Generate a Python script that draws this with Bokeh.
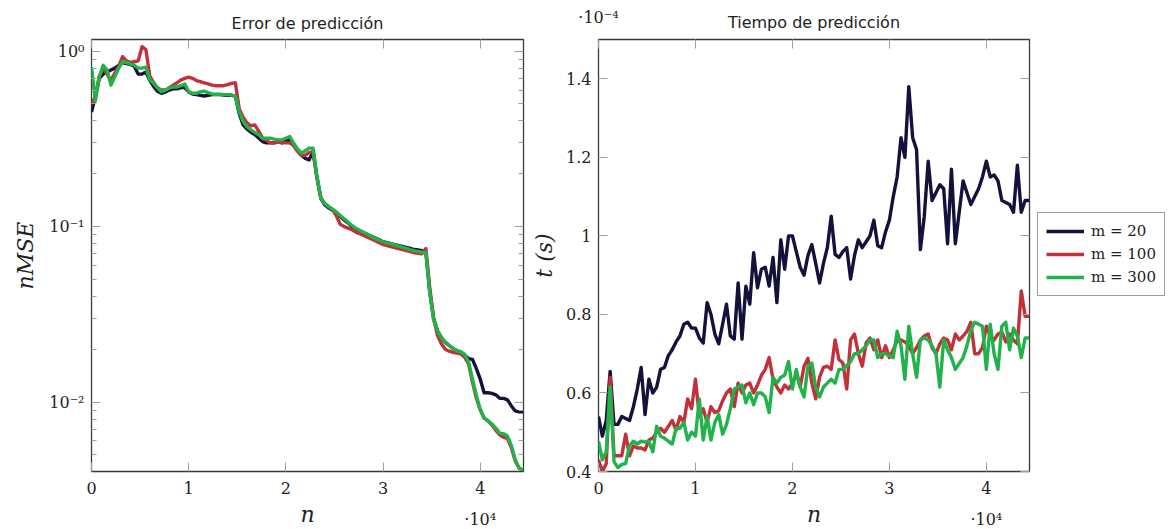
from bokeh.plotting import figure
from bokeh.models import (Range1d, FixedTicker, LinearAxis, LogAxis, CustomJSTickFormatter,
                          Legend, LegendItem)
from bokeh.layouts import row
from bokeh.embed import file_html
from bokeh.resources import INLINE

# ---------------- data ----------------
n = list(range(0, 44401, 400))  # training-set size n (112 points)

series_names = ["m = 20", "m = 100", "m = 300"]

# nMSE (left panel)
err_m20 = [0.45, 0.55, 0.70, 0.74, 0.76, 0.78, 0.80, 0.83, 0.86, 0.85,
           0.84, 0.82, 0.74, 0.74, 0.76, 0.68, 0.63, 0.59, 0.575, 0.585,
           0.60, 0.61, 0.61, 0.62, 0.62, 0.585, 0.57, 0.565, 0.56, 0.555,
           0.56, 0.565, 0.565, 0.565, 0.562, 0.56, 0.56, 0.555, 0.44, 0.38,
           0.36, 0.345, 0.335, 0.32, 0.305, 0.30, 0.30, 0.30, 0.305, 0.30,
           0.31, 0.31, 0.29, 0.27, 0.255, 0.245, 0.24, 0.27, 0.19, 0.145,
           0.133, 0.128, 0.124, 0.12, 0.114, 0.109, 0.105, 0.1, 0.097, 0.0945,
           0.092, 0.09, 0.088, 0.086, 0.084, 0.082, 0.081, 0.08, 0.079, 0.078,
           0.077, 0.076, 0.075, 0.074, 0.0735, 0.073, 0.072, 0.043, 0.030, 0.0255,
           0.0233, 0.0219, 0.021, 0.0202, 0.0196, 0.0192, 0.0185, 0.0177, 0.0175, 0.0155,
           0.0135, 0.0113, 0.0113, 0.0112, 0.011, 0.0105, 0.0105, 0.0103, 0.0095, 0.0089,
           0.0088, 0.0088]
err_m100 = [0.50, 0.55, 0.72, 0.80, 0.74, 0.68, 0.75, 0.82, 0.93, 0.88,
            0.86, 0.87, 0.88, 1.06, 1.02, 0.72, 0.66, 0.62, 0.60, 0.60,
            0.62, 0.64, 0.66, 0.685, 0.70, 0.71, 0.70, 0.68, 0.67, 0.66,
            0.65, 0.64, 0.635, 0.635, 0.635, 0.645, 0.655, 0.66, 0.47, 0.42,
            0.39, 0.375, 0.38, 0.35, 0.32, 0.31, 0.30, 0.30, 0.305, 0.30,
            0.30, 0.30, 0.29, 0.27, 0.255, 0.255, 0.265, 0.265, 0.19, 0.145,
            0.135, 0.13, 0.125, 0.115, 0.103, 0.10, 0.098, 0.096, 0.093, 0.091,
            0.089, 0.087, 0.085, 0.083, 0.081, 0.079, 0.078, 0.077, 0.076, 0.075,
            0.074, 0.073, 0.072, 0.071, 0.0705, 0.070, 0.075, 0.045, 0.030, 0.024,
            0.0215, 0.020, 0.0195, 0.0192, 0.019, 0.0188, 0.018, 0.0165, 0.013, 0.0105,
            0.009, 0.0081, 0.0078, 0.0074, 0.0069, 0.0065, 0.0063, 0.0062, 0.0055, 0.0046,
            0.0042, 0.0041]
err_m300 = [0.81, 0.52, 0.715, 0.83, 0.78, 0.64, 0.715, 0.80, 0.87, 0.86,
            0.845, 0.83, 0.80, 0.80, 0.81, 0.684, 0.655, 0.617, 0.587, 0.60,
            0.617, 0.625, 0.625, 0.635, 0.65, 0.587, 0.575, 0.575, 0.587, 0.592,
            0.58, 0.57, 0.568, 0.568, 0.565, 0.565, 0.562, 0.555, 0.452, 0.397,
            0.371, 0.356, 0.344, 0.334, 0.319, 0.319, 0.319, 0.315, 0.312, 0.312,
            0.319, 0.326, 0.299, 0.277, 0.262, 0.271, 0.28, 0.28, 0.193, 0.146,
            0.135, 0.13, 0.126, 0.121, 0.1155, 0.1106, 0.106, 0.1015, 0.0978, 0.0953,
            0.0928, 0.0905, 0.0882, 0.0856, 0.0837, 0.082, 0.0806, 0.08, 0.0786, 0.0773,
            0.0763, 0.0752, 0.074, 0.073, 0.0723, 0.0714, 0.071, 0.042, 0.0296, 0.0254,
            0.0233, 0.0219, 0.021, 0.0202, 0.0196, 0.0194, 0.0187, 0.0169, 0.0135, 0.0109,
            0.0091, 0.0081, 0.0078, 0.0075, 0.0071, 0.00665, 0.0066, 0.0064, 0.00565, 0.0047,
            0.0042, 0.0041]

# prediction time (right panel), in units of 1e-4 s
t_m20 = [0.54, 0.49, 0.53, 0.655, 0.52, 0.52, 0.54, 0.535, 0.53, 0.565,
         0.61, 0.665, 0.545, 0.635, 0.60, 0.615, 0.66, 0.665, 0.695, 0.71,
         0.73, 0.745, 0.775, 0.78, 0.765, 0.765, 0.74, 0.727, 0.83, 0.80,
         0.75, 0.725, 0.775, 0.826, 0.745, 0.737, 0.88, 0.737, 0.872, 0.826,
         0.957, 0.868, 0.915, 0.92, 0.872, 0.945, 0.83, 0.99, 0.915, 1.0,
         1.0, 0.96, 0.92, 0.90, 0.95, 0.978, 0.93, 0.88, 0.93, 0.97,
         1.05, 0.953, 0.945, 0.96, 0.97, 0.89, 0.95, 0.99, 0.97, 0.985,
         1.0, 1.04, 0.975, 0.97, 1.01, 1.04, 1.10, 1.15, 1.25, 1.2,
         1.38, 1.25, 1.22, 0.965, 1.05, 1.19, 1.09, 1.11, 1.13, 1.12,
         0.98, 1.17, 0.98, 1.06, 1.14, 1.11, 1.08, 1.10, 1.12, 1.15,
         1.19, 1.15, 1.155, 1.14, 1.09, 1.085, 1.08, 1.06, 1.18, 1.06,
         1.09, 1.09]
t_m100 = [0.43, 0.40, 0.42, 0.64, 0.44, 0.44, 0.44, 0.495, 0.44, 0.465,
          0.46, 0.46, 0.455, 0.48, 0.485, 0.50, 0.51, 0.50, 0.515, 0.53,
          0.505, 0.54, 0.525, 0.585, 0.56, 0.635, 0.54, 0.56, 0.525, 0.565,
          0.55, 0.555, 0.58, 0.60, 0.61, 0.565, 0.625, 0.60, 0.62, 0.625,
          0.60, 0.62, 0.645, 0.66, 0.69, 0.635, 0.615, 0.60, 0.62, 0.61,
          0.625, 0.65, 0.615, 0.668, 0.688, 0.625, 0.585, 0.64, 0.665, 0.668,
          0.66, 0.735, 0.685, 0.676, 0.61, 0.735, 0.75, 0.70, 0.668, 0.727,
          0.74, 0.71, 0.735, 0.69, 0.72, 0.69, 0.71, 0.733, 0.735, 0.73,
          0.72, 0.70, 0.715, 0.735, 0.745, 0.75, 0.715, 0.70, 0.725, 0.74,
          0.735, 0.71, 0.75, 0.735, 0.745, 0.757, 0.78, 0.70, 0.70, 0.715,
          0.77, 0.745, 0.735, 0.75, 0.755, 0.73, 0.75, 0.735, 0.725, 0.86,
          0.795, 0.795]
t_m300 = [0.477, 0.43, 0.45, 0.615, 0.425, 0.41, 0.418, 0.42, 0.466, 0.477,
          0.47, 0.477, 0.475, 0.476, 0.45, 0.515, 0.49, 0.485, 0.477, 0.47,
          0.51, 0.51, 0.525, 0.48, 0.50, 0.49, 0.585, 0.48, 0.54, 0.48,
          0.525, 0.545, 0.495, 0.52, 0.56, 0.61, 0.615, 0.62, 0.575, 0.60,
          0.57, 0.60, 0.60, 0.59, 0.55, 0.64, 0.625, 0.64, 0.645, 0.68,
          0.61, 0.66, 0.615, 0.59, 0.668, 0.676, 0.615, 0.59, 0.615, 0.625,
          0.635, 0.625, 0.66, 0.66, 0.67, 0.68, 0.70, 0.70, 0.71, 0.72,
          0.735, 0.735, 0.69, 0.70, 0.70, 0.695, 0.69, 0.757, 0.72, 0.635,
          0.77, 0.70, 0.64, 0.735, 0.74, 0.735, 0.72, 0.70, 0.615, 0.735,
          0.71, 0.69, 0.66, 0.675, 0.69, 0.72, 0.76, 0.78, 0.775, 0.77,
          0.66, 0.775, 0.70, 0.66, 0.77, 0.78, 0.71, 0.765, 0.745, 0.69,
          0.74, 0.74]

x_ticks = [0, 10000, 20000, 30000, 40000]
err_ticks = [0.01, 0.1, 1.0]
err_minor = [k * 10.0 ** e for e in (-3, -2, -1, 0) for k in range(2, 10)]
t_ticks = [0.4, 0.6, 0.8, 1.0, 1.2, 1.4]

colors = ["#15113d", "#c4303a", "#20b34a"]
SERIF = "DejaVu Serif"
SANS = "DejaVu Sans"
TICK_COL = "#a0a0a0"
FRAME_COL = "#3a3a3a"
TXT = "#222222"
H = 529

# bottom axis: "0".."4", with the common factor ·10⁴ under the last tick
x_fmt = CustomJSTickFormatter(code="""
const v = Math.round(tick/1e4);
return v == 4 ? '4\\n\u00b710\u2074' : String(v);
""")
log_fmt = CustomJSTickFormatter(code="""
const e = Math.round(Math.log10(tick));
const sup = {'-':'\u207b','0':'\u2070','1':'\u00b9','2':'\u00b2','3':'\u00b3','4':'\u2074'};
return '10' + String(e).split('').map(c => sup[c]).join('');
""")
t_fmt = CustomJSTickFormatter(code="return String(Math.round(tick*10)/10);")
blank_fmt = CustomJSTickFormatter(code="return '';")
# top axis of the right panel carries the common factor ·10⁻⁴ at its left end
top_fmt = CustomJSTickFormatter(code="return tick == 0 ? '\u00b710\u207b\u2074' : '';")


def style_axis(ax, hide_labels=False, minor=False):
    ax.axis_line_color = None
    ax.major_tick_in = 9
    ax.major_tick_out = 0
    ax.major_tick_line_color = TICK_COL
    ax.major_tick_line_width = 1
    if minor:
        ax.minor_tick_in = 5
        ax.minor_tick_out = 0
        ax.minor_tick_line_color = TICK_COL
    else:
        ax.minor_tick_line_color = None
    ax.major_label_text_font = SERIF
    ax.major_label_text_font_size = "16px"
    ax.major_label_text_color = TXT
    ax.major_label_standoff = 0 if hide_labels else 7
    ax.axis_label_text_font = SERIF
    ax.axis_label_text_font_style = "italic"
    ax.axis_label_text_font_size = "22px"
    ax.axis_label_text_color = TXT
    ax.axis_label_standoff = 8


def style_bottom(ax):
    style_axis(ax)
    ax.major_label_text_line_height = 1.65
    ax.axis_label_standoff = -30


def base_fig(width, left, right, title, **kw):
    p = figure(width=width, height=H, output_backend="svg", toolbar_location=None,
               min_border_left=left, min_border_right=right, min_border_top=39,
               min_border_bottom=57, title=title, **kw)
    p.grid.grid_line_color = None
    p.outline_line_color = FRAME_COL
    p.outline_line_width = 1.3
    p.background_fill_color = "white"
    p.border_fill_color = "white"
    return p


# ---------------- left: prediction error ----------------
p1 = base_fig(529, 91, 6, "Error de predicción", y_axis_type="log",
              x_range=Range1d(0, 44450), y_range=Range1d(0.00402, 1.165))
p1.title.text_font = SANS
p1.title.text_font_style = "normal"
p1.title.text_font_size = "16px"
p1.title.text_color = TXT
p1.title.align = "center"
p1.title.standoff = 13
p1.xaxis.ticker = FixedTicker(ticks=x_ticks)
p1.xaxis.formatter = x_fmt
p1.xaxis.axis_label = "n"
p1.yaxis.ticker = FixedTicker(ticks=err_ticks, minor_ticks=err_minor)
p1.yaxis.formatter = log_fmt
p1.yaxis.axis_label = "nMSE"
style_bottom(p1.xaxis[0])
style_axis(p1.yaxis[0], minor=True)
ax_top1 = LinearAxis(ticker=FixedTicker(ticks=x_ticks), formatter=blank_fmt)
style_axis(ax_top1, hide_labels=True)
p1.add_layout(ax_top1, "above")
ax_right1 = LogAxis(ticker=FixedTicker(ticks=err_ticks, minor_ticks=err_minor), formatter=blank_fmt)
style_axis(ax_right1, hide_labels=True, minor=True)
p1.add_layout(ax_right1, "right")

for ys, c in zip([err_m20, err_m100, err_m300], colors):
    p1.line(n, ys, line_color=c, line_width=3.4, line_join="round")

# ---------------- right: prediction time ----------------
p2 = base_fig(502, 67, 2, None,
              x_range=Range1d(0, 44450), y_range=Range1d(0.4, 1.5))
p2.xaxis.ticker = FixedTicker(ticks=x_ticks)
p2.xaxis.formatter = x_fmt
p2.xaxis.axis_label = "n"
p2.yaxis.ticker = FixedTicker(ticks=t_ticks)
p2.yaxis.formatter = t_fmt
p2.yaxis.axis_label = "t (s)"
style_bottom(p2.xaxis[0])
style_axis(p2.yaxis[0])
p2.yaxis.axis_label_standoff = 6
ax_top2 = LinearAxis(ticker=FixedTicker(ticks=x_ticks), formatter=top_fmt,
                     axis_label="Tiempo de predicción")
style_axis(ax_top2)
ax_top2.major_label_standoff = 13
ax_top2.axis_label_text_font = SANS
ax_top2.axis_label_text_font_style = "normal"
ax_top2.axis_label_text_font_size = "16px"
ax_top2.axis_label_standoff = -27
p2.add_layout(ax_top2, "above")
ax_right2 = LinearAxis(ticker=FixedTicker(ticks=t_ticks), formatter=blank_fmt)
style_axis(ax_right2, hide_labels=True)
p2.add_layout(ax_right2, "right")

for ys, c in zip([t_m20, t_m100, t_m300], colors):
    p2.line(n, ys, line_color=c, line_width=3.4, line_join="round")

# ---------------- legend (own narrow canvas, outside the right panel) ----------------
# the series are drawn again here only as legend keys; the view range excludes all data
p3 = figure(width=139, height=H, output_backend="svg", toolbar_location=None,
            x_range=Range1d(-2, -1), y_range=Range1d(-2, -1),
            x_axis_location=None, y_axis_location=None,
            min_border_left=0, min_border_right=0, min_border_top=39, min_border_bottom=57)
p3.outline_line_color = None
p3.grid.visible = False
keys = [p3.line(n, ys, line_color=c, line_width=3.4)
        for ys, c in zip([t_m20, t_m100, t_m300], colors)]
legend = Legend(items=[LegendItem(label=s, renderers=[r]) for s, r in zip(series_names, keys)],
                location=(6, 175), margin=0, padding=8, spacing=3,
                glyph_width=38, glyph_height=20, label_height=20, label_standoff=7,
                label_text_font=SERIF, label_text_font_size="15px", label_text_color=TXT,
                border_line_color=FRAME_COL, border_line_width=1.2, background_fill_alpha=1.0)
p3.add_layout(legend, "center")

layout = row(p1, p2, p3, spacing=0)
open("out.html", "w").write(file_html(layout, INLINE))
